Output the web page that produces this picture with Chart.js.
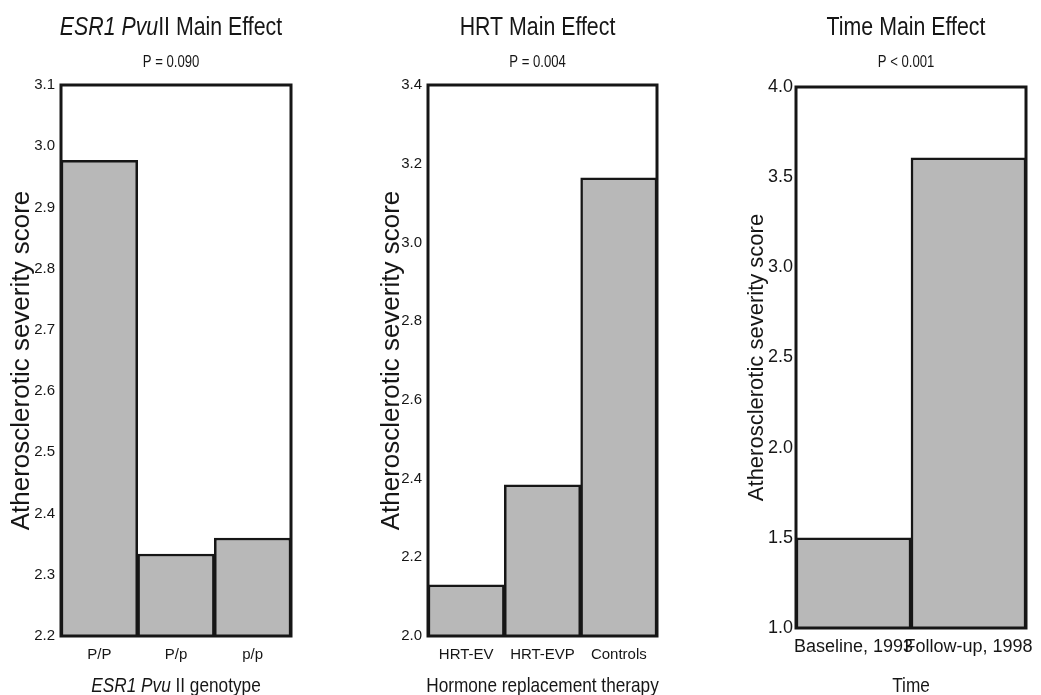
<!DOCTYPE html>
<html>
<head>
<meta charset="utf-8">
<script src="https://cdn.jsdelivr.net/npm/chart.js@4.4.1/dist/chart.umd.min.js"></script>
<style>
  html, body { margin: 0; padding: 0; background: #fff; }
  #wrap { position: relative; width: 1041px; height: 695px; }
  .panel { position: absolute; top: 0; width: 347px; height: 695px; }
</style>
</head>
<body>
<div id="wrap">
  <div class="panel" style="left:0px"><canvas id="esrChart"></canvas></div>
  <div class="panel" style="left:347px"><canvas id="hrtChart"></canvas></div>
  <div class="panel" style="left:694px"><canvas id="timeChart"></canvas></div>
</div>
<script>
// data
const esrLabels = ['P/P', 'P/p', 'p/p'];
const esrScores = [2.977, 2.334, 2.36];
const esrRange = [2.2, 3.1, 0.1]; // min, max, step

const hrtLabels = ['HRT-EV', 'HRT-EVP', 'Controls'];
const hrtScores = [2.13, 2.384, 3.164];
const hrtRange = [2.0, 3.4, 0.2];

const timeLabels = ['Baseline, 1993', 'Follow-up, 1998'];
const timeScores = [1.5, 3.607];
const timeRange = [1.0, 4.0, 0.5];

const FONT = "'Liberation Sans', Arial, sans-serif";
const INK = '#161616';
const SQUEEZE = 0.82; // the figure's lettering is narrow

// draws panel title, p value and x axis title (with italic parts)
const panelText = {
  id: 'panelText',
  afterDraw(chart, args, opts) {
    const c = chart.ctx;
    const area = chart.chartArea;
    const cx = (area.left + area.right) / 2;

    function drawRow(segments, x, y, size) {
      c.save();
      c.fillStyle = INK;
      c.textBaseline = 'alphabetic';
      c.textAlign = 'left';
      let total = 0;
      segments.forEach(s => {
        c.font = (s[1] ? 'italic ' : '') + size + 'px ' + FONT;
        total += c.measureText(s[0]).width;
      });
      c.translate(x - total * SQUEEZE / 2, y);
      c.scale(SQUEEZE, 1);
      let pos = 0;
      segments.forEach(s => {
        c.font = (s[1] ? 'italic ' : '') + size + 'px ' + FONT;
        c.fillText(s[0], pos, 0);
        pos += c.measureText(s[0]).width;
      });
      c.restore();
    }

    drawRow(opts.title, cx - 5, 35, 26);
    drawRow([[opts.pValue, false]], cx - 5, 67, 16);
    drawRow(opts.xTitle, cx, 692, 21);

    // box round the plot
    c.save();
    c.strokeStyle = INK;
    c.lineWidth = 3;
    c.strokeRect(area.left, area.top, area.right - area.left, area.bottom - area.top);
    c.restore();
  }
};

function makePanel(id, labels, values, range, cfg) {
  return new Chart(document.getElementById(id), {
    type: 'bar',
    data: {
      labels: labels,
      datasets: [{
        data: values,
        backgroundColor: '#b8b8b8',
        borderColor: INK,
        borderWidth: 2.5,
        borderSkipped: false,
        barPercentage: 1,
        categoryPercentage: 1,
      }],
    },
    options: {
      responsive: true,
      maintainAspectRatio: false,
      animation: false,
      layout: { padding: { top: cfg.top, left: cfg.left, right: cfg.right, bottom: 0 } },
      plugins: {
        legend: { display: false },
        tooltip: { enabled: false },
        panelText: { title: cfg.title, pValue: cfg.pValue, xTitle: cfg.xTitle },
      },
      scales: {
        x: {
          grid: { display: false, drawTicks: false },
          border: { display: false },
          ticks: {
            color: INK,
            font: { family: FONT, size: cfg.tickSize },
            padding: cfg.xPad,
            autoSkip: false,
            maxRotation: 0,
          },
          afterFit: s => {
            s.height = cfg.xHeight;
            s.paddingLeft = 0;
            s.paddingRight = 0;
          },
        },
        y: {
          min: range[0],
          max: range[1],
          grid: { display: false, drawTicks: false },
          border: { display: false },
          ticks: {
            stepSize: range[2],
            color: INK,
            font: { family: FONT, size: cfg.tickSize },
            padding: cfg.yPad,
            callback: v => Number(v).toFixed(1),
          },
          title: {
            display: true,
            text: 'Atherosclerotic severity score',
            color: INK,
            font: { family: FONT, size: cfg.yTitleSize },
            padding: { top: cfg.yTitlePad, bottom: 0 },
          },
          afterFit: s => { s.width = 61; },
        },
      },
    },
    plugins: [panelText],
  });
}

makePanel('esrChart', esrLabels, esrScores, esrRange, {
  top: 85, left: 0, right: 56, xHeight: 59, xPad: 10, yPad: 6,
  tickSize: 15, yTitleSize: 26, yTitlePad: 6,
  title: [['ESR1 Pvu', true], ['II Main Effect', false]],
  pValue: 'P = 0.090',
  xTitle: [['ESR1 Pvu', true], [' II genotype', false]],
});

makePanel('hrtChart', hrtLabels, hrtScores, hrtRange, {
  top: 85, left: 20, right: 37, xHeight: 59, xPad: 10, yPad: 6,
  tickSize: 15, yTitleSize: 26, yTitlePad: 9,
  title: [['HRT Main Effect', false]],
  pValue: 'P = 0.004',
  xTitle: [['Hormone replacement therapy', false]],
});

makePanel('timeChart', timeLabels, timeScores, timeRange, {
  top: 87, left: 41, right: 15, xHeight: 67, xPad: 8, yPad: 3,
  tickSize: 18, yTitleSize: 22, yTitlePad: 9,
  title: [['Time Main Effect', false]],
  pValue: 'P < 0.001',
  xTitle: [['Time', false]],
});
</script>
</body>
</html>
